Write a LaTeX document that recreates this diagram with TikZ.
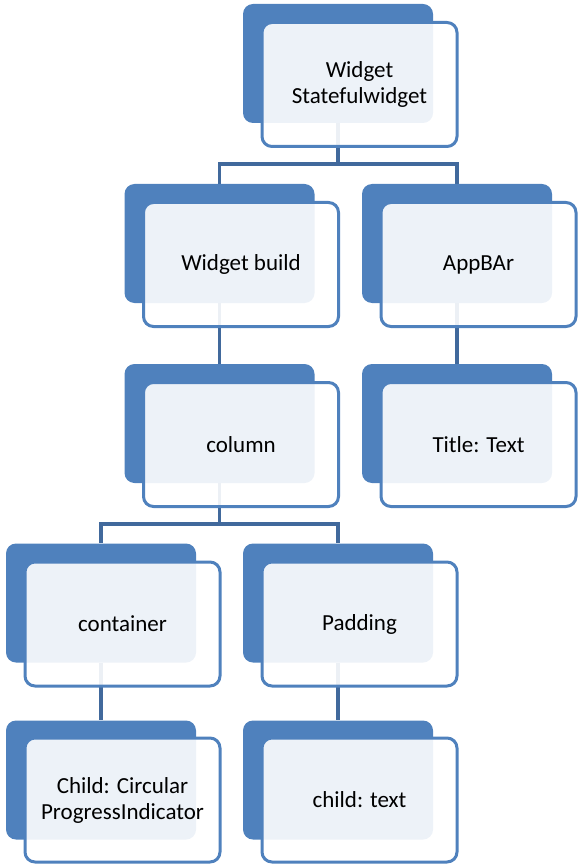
\documentclass[tikz,border=0pt]{standalone}
\usepackage{fontspec}
\setmainfont{Carlito}
\usepackage{tikz}
\usetikzlibrary{calc,backgrounds}
\definecolor{accblue}{HTML}{4F81BD}
\definecolor{linkblue}{HTML}{41699C}
\tikzset{
  back/.style={rectangle, rounded corners=10pt, fill=accblue, minimum width=190pt, minimum height=119pt, inner sep=0pt},
  front/.style={rectangle, rounded corners=10pt, draw=accblue, line width=3pt, fill=white, fill opacity=0.9, text opacity=1, minimum width=195pt, minimum height=124pt, inner sep=2pt, align=center, font=\fontsize{23}{26}\selectfont},
  link/.style={draw=linkblue, line width=3.5pt}
}
\begin{document}
\begin{tikzpicture}[x=1pt,y=-1pt]
			%%%%% START %%%%%
			\useasboundingbox (0,0) rectangle (579,866);
			
			\node[back] (root) at (338, 63.5) {};
			\node[front] (rootf) at ([shift={(21.5,21)}]root.center) {Widget\\Statefulwidget};
			
			\node[back] (build) at (219.5, 243.5) {};
			\node[front] (buildf) at ([shift={(21.5,21)}]build.center) {Widget build};
			
			\node[back] (appbar) at (457, 243.5) {};
			\node[front] (appbarf) at ([shift={(21.5,21)}]appbar.center) {AppBAr};
			
			\node[back] (column) at (219.5, 423.5) {};
			\node[front] (columnf) at ([shift={(21.5,21)}]column.center) {column};
			
			\node[back] (title) at (457, 423.5) {};
			\node[front] (titlef) at ([shift={(21.5,21)}]title.center) {Title: Text};
			
			\node[back] (container) at (101, 603) {};
			\node[front] (containerf) at ([shift={(21.5,21)}]container.center) {container};
			
			\node[back] (padding) at (338, 603) {};
			\node[front] (paddingf) at ([shift={(21.5,21)}]padding.center) {Padding};
			
			\node[back] (childcpi) at (101, 780) {};
			\node[front] (childcpif) at ([shift={(21.5,20)}]childcpi.center) {Child: Circular\\ProgressIndicator};
			
			\node[back] (childtext) at (338, 780) {};
			\node[front] (childtextf) at ([shift={(21.5,20)}]childtext.center) {child: text};
			
			\begin{scope}[on background layer]
			\draw[link] (root.south) -- ++(0,41) -| (build.north);
			\draw[link] (root.south) -- ++(0,41) -| (appbar.north);
			\draw[link] (build.south) -- (column.north);
			\draw[link] (appbar.south) -- (title.north);
			\draw[link] (column.south) -- ++(0,41) -| (container.north);
			\draw[link] (column.south) -- ++(0,41) -| (padding.north);
			\draw[link] (container.south) -- (childcpi.north);
			\draw[link] (padding.south) -- (childtext.north);
			\end{scope}
			
			%%%%% END %%%%%
\end{tikzpicture}
\end{document}
